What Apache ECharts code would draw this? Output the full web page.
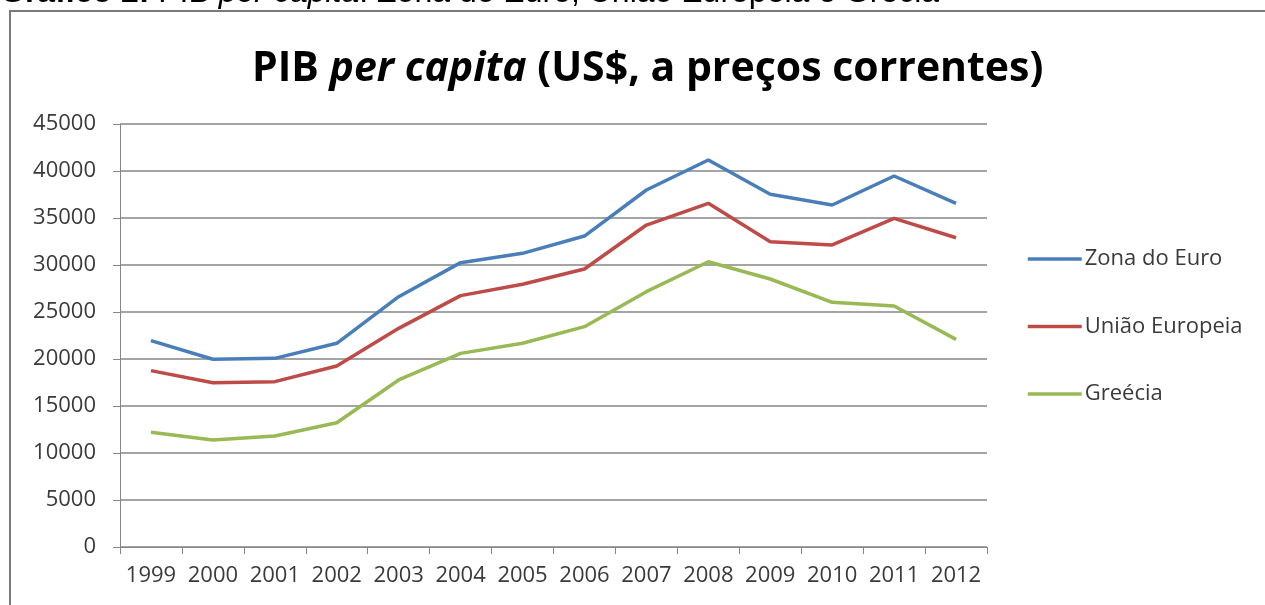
<!DOCTYPE html>
<html>
<head>
<meta charset="utf-8">
<title>PIB per capita</title>
<script src="https://cdn.jsdelivr.net/npm/echarts@6/dist/echarts.min.js"></script>
<style>
  html, body { margin: 0; padding: 0; background: #fff; }
  #chart { width: 1265px; height: 605px; }
</style>
</head>
<body>
<div id="chart"></div>
<script>
// dados (US$, preços correntes)
const anos = ['1999', '2000', '2001', '2002', '2003', '2004', '2005', '2006', '2007', '2008', '2009', '2010', '2011', '2012']
const zonaEuro = [21950, 19970, 20070, 21670, 26630, 30250, 31240, 33080, 37980, 41170, 37520, 36380, 39470, 36560]
const uniaoEuropeia = [18760, 17480, 17590, 19260, 23260, 26740, 27950, 29570, 34250, 36560, 32480, 32130, 34960, 32900]
const grecia = [12200, 11380, 11810, 13220, 17770, 20600, 21670, 23440, 27160, 30350, 28510, 26030, 25640, 22090]

const eixoY = { min: 0, max: 45000, interval: 5000 }

const FONTE = '"Open Sans", "Noto Sans", sans-serif'
const CINZA = '#868686'
const TEXTO = '#3a3a3a'

const chart = echarts.init(document.getElementById('chart'), null, { renderer: 'canvas' })

function linha(nome, dados, cor) {
  return {
    name: nome,
    type: 'line',
    data: dados,
    symbol: 'none',
    smooth: false,
    lineStyle: { color: cor, width: 3.5 },
    itemStyle: { color: cor },
  }
}

chart.setOption({
  backgroundColor: '#fff',
  animation: false,
  textStyle: { fontFamily: FONTE },
  title: {
    left: 247,
    top: 40,
    text: '{b|PIB }{i|per capita}{b| (US$, a preços correntes)}',
    textStyle: {
      rich: {
        b: { fontFamily: FONTE, fontWeight: 'bold', fontSize: 41, color: '#000', lineHeight: 48 },
        i: { fontFamily: FONTE, fontWeight: 'bold', fontStyle: 'italic', fontSize: 41, color: '#000', lineHeight: 48 },
      },
    },
  },
  graphic: [
    // moldura do gráfico (cortada à direita e em baixo)
    {
      type: 'rect',
      shape: { x: 10, y: 11, width: 1400, height: 800 },
      style: { fill: null, stroke: '#7a7a7a', lineWidth: 2 },
      silent: true,
    },
    // legenda do documento, parcialmente cortada no topo
    {
      type: 'text',
      x: 0,
      y: -7,
      style: {
        text: '{b|Gráfico 2:}{n| PIB }{i|per capita}{n|: Zona do Euro, União Europeia e Grécia}',
        verticalAlign: 'middle',
        rich: {
          b: { fontFamily: 'Liberation Sans, Arial', fontWeight: 'bold', fontSize: 32, fill: '#000' },
          n: { fontFamily: 'Liberation Sans, Arial', fontSize: 32, fill: '#000' },
          i: { fontFamily: 'Liberation Sans, Arial', fontStyle: 'italic', fontSize: 32, fill: '#000' },
        },
      },
      silent: true,
    },
  ],
  legend: {
    orient: 'vertical',
    left: 1021,
    top: 243,
    itemWidth: 54,
    itemHeight: 20,
    itemGap: 45.5,
    itemStyle: { opacity: 0 },
    lineStyle: { width: 3.5, opacity: 1 },
    textStyle: { fontFamily: FONTE, fontSize: 22, color: TEXTO, padding: [0, 0, 0, -2] },
    data: ['Zona do Euro', 'União Europeia', 'Greécia'],
  },
  grid: { left: 120, right: 278, top: 124, bottom: 58, containLabel: false },
  xAxis: {
    type: 'category',
    data: anos,
    boundaryGap: true,
    axisLine: { show: true, lineStyle: { color: CINZA, width: 1 } },
    axisTick: { show: true, length: 7, interval: 0, lineStyle: { color: CINZA } },
    axisLabel: { interval: 0, fontFamily: FONTE, fontSize: 22, color: TEXTO, margin: 18 },
    splitLine: { show: false },
  },
  yAxis: {
    type: 'value',
    min: eixoY.min,
    max: eixoY.max,
    interval: eixoY.interval,
    axisLine: { show: true, lineStyle: { color: CINZA, width: 1 } },
    axisTick: { show: true, length: 7, lineStyle: { color: CINZA } },
    axisLabel: { fontFamily: FONTE, fontSize: 22, color: TEXTO, margin: 24, formatter: (v) => String(v) },
    splitLine: { show: true, lineStyle: { color: CINZA, width: 1.5 } },
  },
  series: [
    linha('Zona do Euro', zonaEuro, '#4a7ebb'),
    linha('União Europeia', uniaoEuropeia, '#be4b48'),
    linha('Greécia', grecia, '#98b954'),
  ],
})
</script>
</body>
</html>
